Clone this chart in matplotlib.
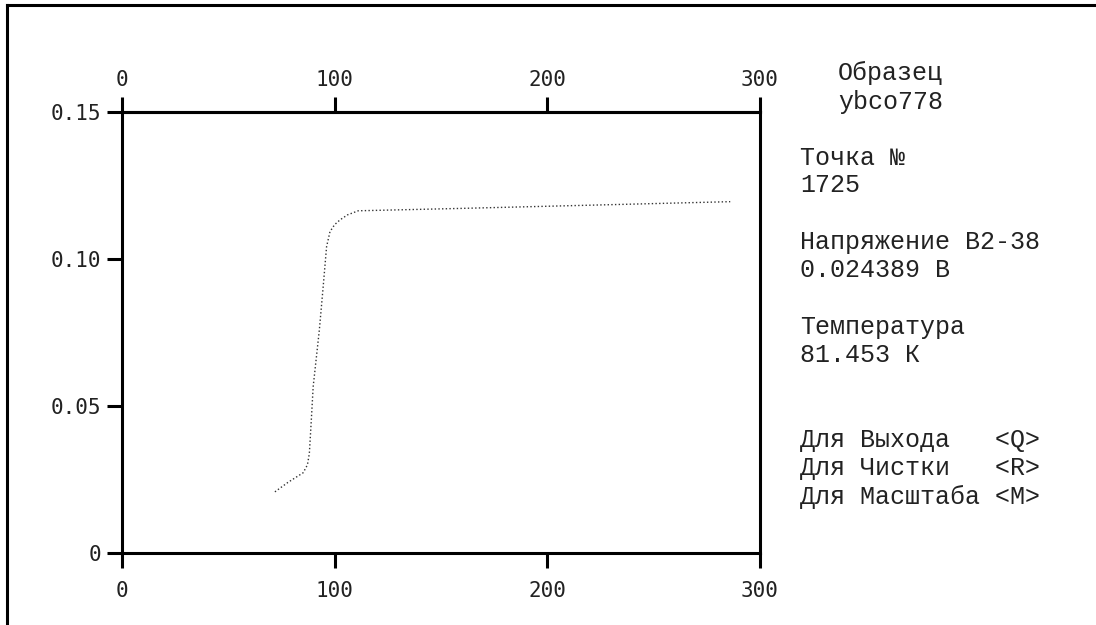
# -*- coding: utf-8 -*-
import numpy as np
import matplotlib
matplotlib.use('Agg')
import matplotlib.pyplot as plt
from matplotlib.lines import Line2D

# curve (temperature, voltage)
temp = [71.9, 78.0, 85.2, 87.2, 88.1, 89.0, 89.9, 92.8, 94.6, 96.2, 97.8, 100.0, 102.5, 106.0, 111.1, 158.9, 220.0, 286.0]
volt = [0.0208, 0.0240, 0.0273, 0.0300, 0.0339, 0.0450, 0.0566, 0.0759, 0.0906, 0.1042, 0.1093, 0.1117, 0.1133, 0.1150, 0.1164, 0.1172, 0.1183, 0.1195]

xticks = [0, 100, 200, 300]
yticks = [0, 0.05, 0.10, 0.15]
ylabels = ['0', '0.05', '0.10', '0.15']

info_lines = [
    (838, 73, 'Образец'),
    (838, 102, 'ybco778'),
    (800, 158, 'Точка №'),
    (800, 185, '1725'),
    (800, 242, 'Напряжение В2-38'),
    (800, 270, '0.024389 В'),
    (800, 327, 'Температура'),
    (800, 355, '81.453 К'),
    (800, 440, 'Для Выхода   <Q>'),
    (800, 468, 'Для Чистки   <R>'),
    (800, 497, 'Для Масштаба <M>'),
]

W, H = 1096, 625
fig = plt.figure(figsize=(W / 100, H / 100), dpi=100)
ax = fig.add_axes([122 / W, 1 - 553 / H, (760 - 122) / W, (553 - 112) / H])

ax.plot(temp, volt, linestyle=':', color='#333333', lw=1.0)

ax.set_xlim(0, 300)
ax.set_ylim(0, 0.15)
ax.set_xticks(xticks)
ax.set_yticks(yticks)
ax.set_yticklabels(ylabels)

for s in ax.spines.values():
    s.set_linewidth(2.2)
    s.set_color('black')

ax.tick_params(axis='both', direction='out', length=11, width=2.2, colors='black')
ax.tick_params(axis='x', pad=9)
ax.tick_params(axis='y', pad=4)
for lab in ax.get_xticklabels() + ax.get_yticklabels():
    lab.set_fontfamily('DejaVu Sans Mono')
    lab.set_fontsize(15)
    lab.set_color('#222222')

top = ax.secondary_xaxis('top')
top.set_xticks(xticks)
top.tick_params(direction='out', length=11, width=2.2, pad=5, colors='black')
top.spines['top'].set_linewidth(2.2)
for lab in top.get_xticklabels():
    lab.set_fontfamily('DejaVu Sans Mono')
    lab.set_fontsize(15)
    lab.set_color('#222222')

for x, y, t in info_lines:
    fig.text(x / W, 1 - y / H, t, family='Liberation Mono', fontsize=18,
             color='#222222', ha='left', va='center')

# screen frame (left and top edges)
fig.add_artist(Line2D([7 / W, 7 / W], [0, 1 - 5 / H], color='black', lw=2.2))
fig.add_artist(Line2D([7 / W, 1], [1 - 5 / H, 1 - 5 / H], color='black', lw=2.2))

fig.savefig('out.png', dpi=100)
